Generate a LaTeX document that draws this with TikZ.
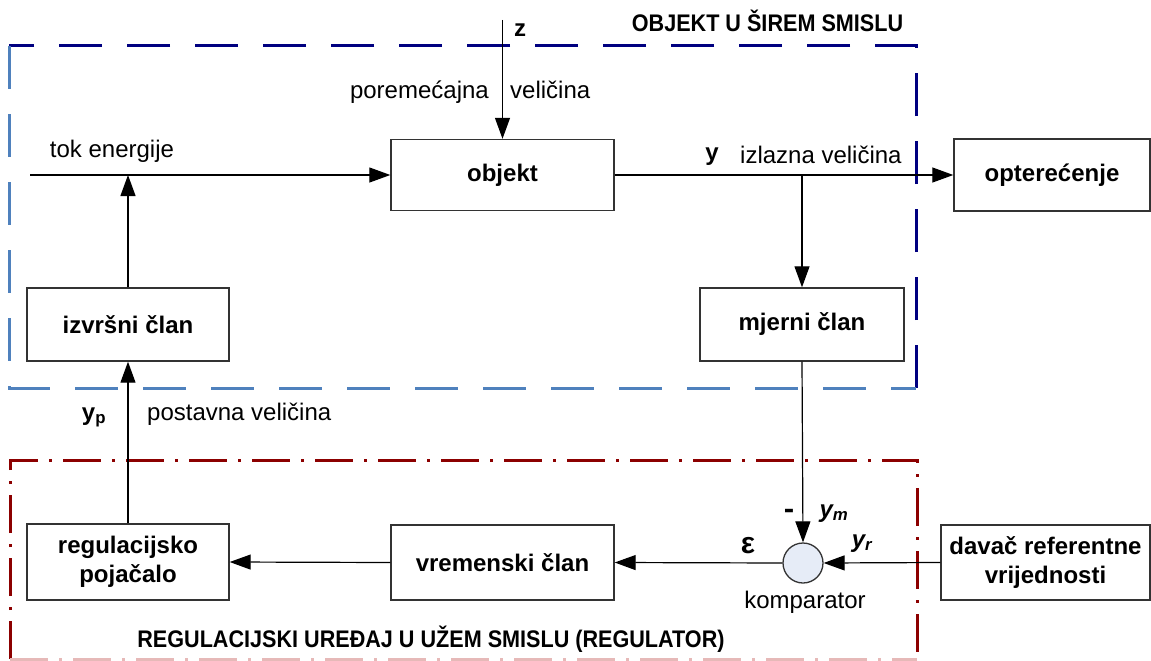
\documentclass[tikz,border=0pt]{standalone}
\usepackage{fontspec}
\setmainfont{Liberation Sans}
\usetikzlibrary{arrows.meta, positioning}

\definecolor{tamnoplava}{RGB}{0,0,128}
\definecolor{svijetloplava}{RGB}{79,129,189}
\definecolor{tamnocrvena}{RGB}{140,0,0}
\definecolor{ruzicasta}{RGB}{230,185,184}
\definecolor{komparatorboja}{RGB}{230,236,247}

\newcommand{\osnovnifont}{\fontsize{24}{29}\selectfont}

\tikzset{
    blokk/.style={draw=black!80, line width=1.4pt, fill=white,
        font=\osnovnifont\bfseries, align=center, inner sep=0pt},
    vonal/.style={line width=1.2pt, -{Triangle[length=21pt,width=15pt]}},
    okvir/.style={line width=3pt, dash pattern=on 43pt off 25pt},
    okvirpont/.style={line width=3pt, dash pattern=on 38pt off 11pt on 3pt off 11pt},
    felirat/.style={anchor=base, inner sep=0pt},
    oznaka/.style={felirat, font=\osnovnifont\bfseries}
}

\begin{document}
\begin{tikzpicture}[x=1pt, y=-1pt, font=\osnovnifont]
    \useasboundingbox (0,0) rectangle (1151,661);

    % 1. Szaggatott keretek
    \draw[okvir, tamnoplava] (916,388) -- (916,46) -- (9,46);
    \draw[okvir, svijetloplava] (9,46) -- (9,388) -- (916,388);
    \draw[okvirpont, tamnocrvena] (10,659) -- (10,460) -- (917,460) -- (917,659);
    \draw[okvirpont, ruzicasta] (10,659) -- (917,659);

    % 2. Blokkok
    \node[blokk, minimum width=223pt, minimum height=71pt] (objekt) at (502.5,175) {objekt};
    \node[blokk, minimum width=196pt, minimum height=72pt] (opterecenje) at (1052,175) {opterećenje};
    \node[blokk, minimum width=202pt, minimum height=73pt] (izvrsni) at (128,324.5) {izvršni član};
    \node[blokk, minimum width=204pt, minimum height=73pt] (mjerni) at (802,324.5) {mjerni član};
    \node[blokk, minimum width=202pt, minimum height=76pt] (regulacijsko) at (128,562) {regulacijsko\\pojačalo};
    \node[blokk, minimum width=223pt, minimum height=75pt] (vremenski) at (502.5,562.5) {vremenski član};
    \node[blokk, minimum width=209pt, minimum height=75pt] (davac) at (1045.5,562.5) {davač referentne\\vrijednosti};
    \node[circle, draw=black!80, line width=1.3pt, fill=komparatorboja,
        minimum size=40pt, inner sep=0pt] (komparator) at (803,563) {};

    % 3. Nyilak
    \coordinate (tokpocetak) at (30,175);
    \coordinate (zpocetak) at (502.5,20);
    \draw[vonal] (tokpocetak) -- (objekt.west);
    \draw[vonal] (izvrsni.north) -- (izvrsni.north |- objekt.west);
    \draw[vonal] (zpocetak) -- (objekt.north);
    \draw[vonal] (objekt.east) -- (opterecenje.west);
    \draw[vonal] (mjerni.north |- objekt.east) -- (mjerni.north);
    \draw[vonal] (mjerni.south) -- (komparator.north);
    \draw[vonal] (davac.west) -- (komparator.east);
    \draw[vonal] (komparator.west) -- (vremenski.east);
    \draw[vonal] (vremenski.west) -- (regulacijsko.east);
    \draw[vonal] (regulacijsko.north) -- (izvrsni.south);

    % 4. Feliratok
    \node[felirat] (objektsirem) at (767.5,32) {\scalebox{0.9}[1]{\bfseries OBJEKT U ŠIREM SMISLU}};
    \node[felirat] (regulator) at (431,647) {\scalebox{0.9}[1]{\bfseries REGULACIJSKI UREĐAJ U UŽEM SMISLU (REGULATOR)}};
    \node[felirat] (tokenergije) at (112,157) {tok energije};
    \node[oznaka] (zoznaka) at (520,37) {z};
    \node[felirat, anchor=base east] (poremecajna) at (489,99) {poremećajna};
    \node[felirat, anchor=base west] (velicinaz) at (510,99) {veličina};
    \node[oznaka] (yoznaka) at (712,160) {y};
    \node[felirat, anchor=base west] (izlazna) at (740,163) {izlazna veličina};
    \node[oznaka] (ypoznaka) at (94,420) {y\textsubscript{p}};
    \node[felirat, anchor=base west] (postavna) at (147,420) {postavna veličina};
    \node[oznaka] (minus) at (789,518) {\scalebox{1.3}[1.2]{-}};
    \node[oznaka, font=\osnovnifont\bfseries\itshape] (ymoznaka) at (834,517) {y\textsubscript{m}};
    \node[oznaka, font=\osnovnifont\bfseries\itshape] (yroznaka) at (862,547) {y\textsubscript{r}};
    \node[oznaka] (epsilon) at (748,553) {\scalebox{1.25}{ε}};
    \node[felirat] (komparatortekst) at (805,608) {komparator};
\end{tikzpicture}
\end{document}
